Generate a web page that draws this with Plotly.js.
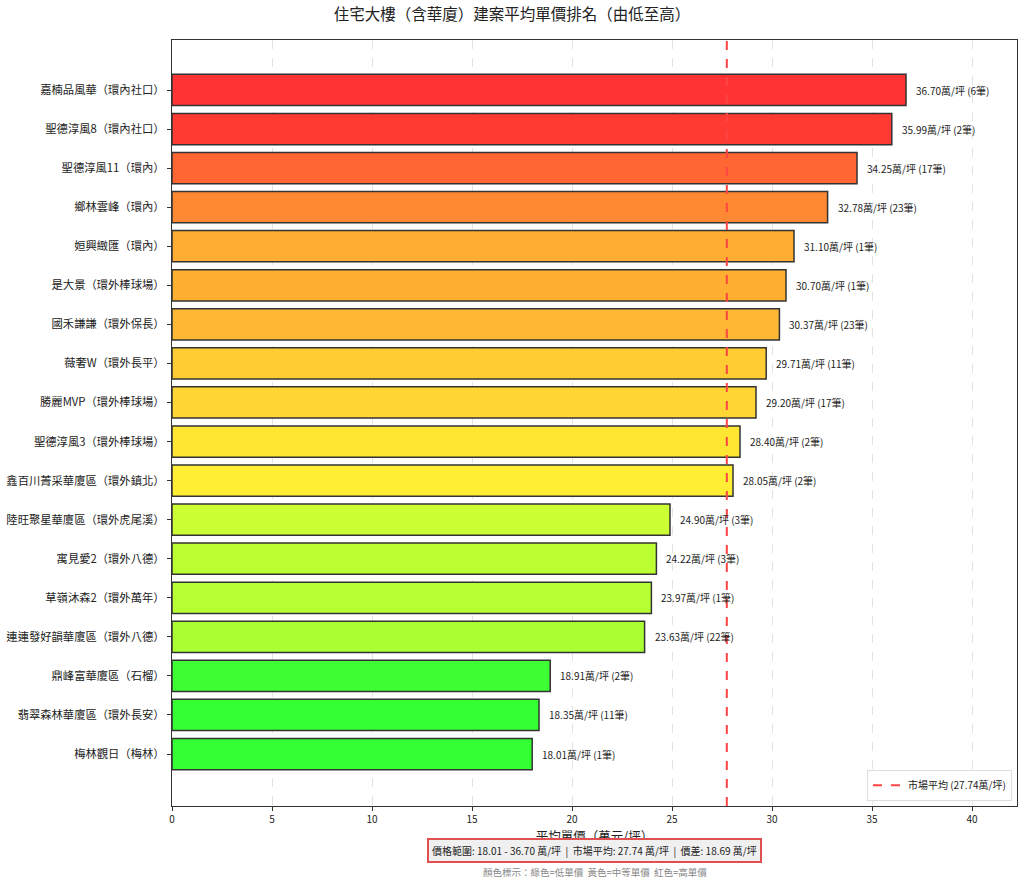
<!DOCTYPE html>
<html>
<head>
<meta charset="utf-8">
<script src="https://cdn.plot.ly/plotly-3.0.1.min.js"></script>
<style>
  body { margin: 0; background: #fff; }
  #chart { width: 1024px; height: 884px; }
</style>
</head>
<body>
<div id="chart"></div>
<script>
// Projects, from lowest to highest average price (bottom to top of the chart)
const projects = [
    '梅林觀日（梅林）',
    '翡翠森林華廈區（環外長安）',
    '鼎峰富華廈區（石榴）',
    '連連發好韻華廈區（環外八德）',
    '草嶺沐森2（環外萬年）',
    '寓見愛2（環外八德）',
    '陸旺聚星華廈區（環外虎尾溪）',
    '鑫百川菁采華廈區（環外鎮北）',
    '聖德淳風3（環外棒球場）',
    '勝麗MVP（環外棒球場）',
    '薇奢W（環外長平）',
    '國禾謙謙（環外保長）',
    '是大景（環外棒球場）',
    '姮興緻匯（環內）',
    '鄉林雲峰（環內）',
    '聖德淳風11（環內）',
    '聖德淳風8（環內社口）',
    '嘉楠品風華（環內社口）'
];

// average price, 萬元/坪
const avgPrice = [18.01, 18.35, 18.91, 23.63, 23.97, 24.22, 24.90, 28.05, 28.40,
                  29.20, 29.71, 30.37, 30.70, 31.10, 32.78, 34.25, 35.99, 36.70];

// number of transactions per project
const txCount = [1, 11, 2, 22, 1, 3, 3, 2, 2, 17, 11, 23, 1, 1, 23, 17, 2, 6];

// bar colours (green = cheap, yellow = mid, red = expensive)
const barColors = ['#33ff33', '#33ff33', '#3dff33', '#aaff33', '#b5ff33', '#bbff33',
                   '#ccff33', '#ffee33', '#ffe633', '#ffd633', '#ffcc33', '#ffb833',
                   '#ffb033', '#ffad33', '#ff8833', '#ff6633', '#ff3a33', '#ff3333'];

const marketAvg = 27.74;
const priceMin = 18.01;
const priceMax = 36.70;
const priceSpread = 18.69;

const FONT = '"Noto Sans CJK TC", "Noto Sans", sans-serif';

const bars = {
    type: 'bar',
    orientation: 'h',
    x: avgPrice,
    y: projects,
    width: 0.8,
    marker: {
        color: barColors,
        line: { color: '#333333', width: 1.5 }
    },
    hoverinfo: 'x+y',
    showlegend: false
};

// legend entry for the market average line (the line itself is a shape)
const avgLegend = {
    type: 'scatter',
    mode: 'lines',
    x: [null],
    y: [null],
    name: '市場平均 (' + marketAvg.toFixed(2) + '萬/坪)',
    line: { color: '#ff4444', width: 2, dash: 'dash' }
};

// value labels to the right of each bar
const valueLabels = avgPrice.map((v, i) => ({
    x: v,
    y: projects[i],
    xref: 'x',
    yref: 'y',
    text: v.toFixed(2) + '萬/坪 (' + txCount[i] + '筆)',
    showarrow: false,
    xanchor: 'left',
    xshift: 8,
    font: { family: FONT, size: 10, color: '#222' }
}));

const notes = [
    {
        x: 0.5, y: 0, xref: 'paper', yref: 'paper',
        yanchor: 'middle', yshift: -44,
        text: '價格範圍: ' + priceMin.toFixed(2) + ' - ' + priceMax.toFixed(2) +
              ' 萬/坪  |  市場平均: ' + marketAvg.toFixed(2) + ' 萬/坪  |  價差: ' +
              priceSpread.toFixed(2) + ' 萬/坪',
        showarrow: false,
        bgcolor: '#f0f0f0',
        bordercolor: '#e05050',
        borderwidth: 2,
        borderpad: 3,
        font: { family: FONT, size: 10, color: '#222' }
    },
    {
        x: 0.5, y: 0, xref: 'paper', yref: 'paper',
        yanchor: 'middle', yshift: -66,
        text: '顏色標示：綠色=低單價  黃色=中等單價  紅色=高單價',
        showarrow: false,
        font: { family: FONT, size: 9.5, color: '#888' }
    }
];

const layout = {
    width: 1024,
    height: 884,
    margin: { l: 172, r: 7, t: 40, b: 78, pad: 0 },
    paper_bgcolor: '#ffffff',
    plot_bgcolor: '#ffffff',
    font: { family: FONT, size: 11, color: '#222' },
    title: {
        text: '住宅大樓（含華廈）建案平均單價排名（由低至高）',
        font: { family: FONT, size: 15.5, color: '#222' },
        x: 0.5,
        xanchor: 'center',
        y: 0.983,
        yanchor: 'middle'
    },
    xaxis: {
        range: [0, 42.25],
        tickvals: [0, 5, 10, 15, 20, 25, 30, 35, 40],
        ticks: 'outside',
        ticklen: 4,
        tickcolor: '#333',
        tickfont: { family: FONT, size: 10 },
        showgrid: true,
        gridcolor: '#e3e3e3',
        griddash: 'dash',
        gridwidth: 1,
        zeroline: false,
        showline: true,
        linecolor: '#333',
        linewidth: 1.2,
        mirror: true,
        title: {
            text: '平均單價（萬元/坪）',
            font: { family: FONT, size: 12.5, color: '#222' },
            standoff: 1
        }
    },
    yaxis: {
        type: 'category',
        range: [-1.33, 18.28],
        ticks: 'outside',
        ticklen: 4,
        tickcolor: '#333',
        tickfont: { family: FONT, size: 11.3 },
        showgrid: false,
        zeroline: false,
        showline: true,
        linecolor: '#333',
        linewidth: 1.2,
        mirror: true,
        automargin: false
    },
    shapes: [{
        type: 'line',
        xref: 'x', yref: 'paper',
        x0: marketAvg, x1: marketAvg,
        y0: 0, y1: 1,
        line: { color: '#ff4444', width: 2, dash: 'dash' }
    }],
    legend: {
        x: 0.994, y: 0.007,
        xanchor: 'right', yanchor: 'bottom',
        bgcolor: '#ffffff',
        bordercolor: '#dddddd',
        borderwidth: 1,
        font: { family: FONT, size: 10, color: '#222' }
    },
    showlegend: true,
    annotations: valueLabels.concat(notes)
};

Plotly.newPlot('chart', [bars, avgLegend], layout, { displayModeBar: false, staticPlot: true });
</script>
</body>
</html>
